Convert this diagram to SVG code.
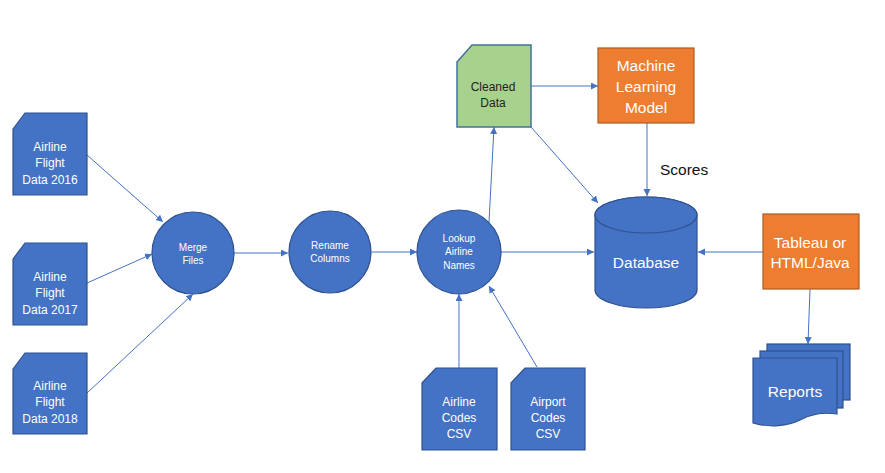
<svg xmlns="http://www.w3.org/2000/svg" width="885" height="473" viewBox="0 0 885 473">
<defs>
<marker id="ah" markerUnits="userSpaceOnUse" markerWidth="8" markerHeight="8" refX="7" refY="3.5" orient="auto">
<path d="M0,0 L7,3.5 L0,7 Z" fill="#4472c4"/>
</marker>
<style>
.blue{fill:#4472c4;stroke:#2f528f;stroke-width:1.2}
.org{fill:#ed7d31;stroke:#ae5a21;stroke-width:1.2}
.grn{fill:#a9d18e;stroke:#41719c;stroke-width:1.5}
.c{stroke:#4472c4;stroke-width:1;fill:none;marker-end:url(#ah)}
text{font-family:"Liberation Sans",Arial,sans-serif;text-anchor:middle}
.w12{fill:#fff;font-size:12px}
.w10{fill:#fff;font-size:10px}
.w16{fill:#fff;font-size:15.5px}
.d12{fill:#222;font-size:12px}
</style>
</defs>
<rect width="885" height="473" fill="#fff"/>
<g id="connectors">
<line class="c" x1="87" y1="155" x2="163" y2="222"/>
<line class="c" x1="87" y1="283" x2="152" y2="254"/>
<line class="c" x1="87" y1="393" x2="193" y2="294"/>
<line class="c" x1="234" y1="253" x2="288" y2="253"/>
<line class="c" x1="372" y1="252" x2="417" y2="252"/>
<line class="c" x1="501" y1="252" x2="594" y2="252"/>
<line class="c" x1="489" y1="222" x2="494" y2="127"/>
<line class="c" x1="531" y1="86" x2="598" y2="86"/>
<line class="c" x1="531" y1="127" x2="598" y2="203"/>
<line class="c" x1="647" y1="123" x2="647" y2="196"/>
<line class="c" x1="763" y1="252" x2="698" y2="252"/>
<line class="c" x1="810" y1="289" x2="808" y2="344"/>
<line class="c" x1="459" y1="368" x2="459" y2="294"/>
<line class="c" x1="537" y1="367" x2="489" y2="286"/>
</g>
<g id="flight2016">
<path class="blue" d="M13,129 L25,113 L87,113 L87,195 L13,195 Z"/>
<text class="w12" x="50" y="151">Airline</text>
<text class="w12" x="50" y="167">Flight</text>
<text class="w12" x="50" y="184">Data 2016</text>
</g>
<g id="flight2017">
<path class="blue" d="M13,259 L25,243 L87,243 L87,325 L13,325 Z"/>
<text class="w12" x="50" y="281">Airline</text>
<text class="w12" x="50" y="297">Flight</text>
<text class="w12" x="50" y="314">Data 2017</text>
</g>
<g id="flight2018">
<path class="blue" d="M13,369 L25,353 L87,353 L87,434 L13,434 Z"/>
<text class="w12" x="50" y="390">Airline</text>
<text class="w12" x="50" y="406">Flight</text>
<text class="w12" x="50" y="423">Data 2018</text>
</g>
<g id="merge">
<circle class="blue" cx="193" cy="253" r="41"/>
<text class="w10" x="193" y="251">Merge</text>
<text class="w10" x="193" y="264">Files</text>
</g>
<g id="rename">
<circle class="blue" cx="330" cy="252" r="41"/>
<text class="w10" x="330" y="249">Rename</text>
<text class="w10" x="330" y="262">Columns</text>
</g>
<g id="lookup">
<circle class="blue" cx="459" cy="252" r="42"/>
<text class="w10" x="459" y="242">Lookup</text>
<text class="w10" x="459" y="255">Airline</text>
<text class="w10" x="459" y="269">Names</text>
</g>
<g id="cleaned">
<path class="grn" d="M457,62 L472,45 L531,45 L531,127 L457,127 Z"/>
<text class="d12" x="493" y="91">Cleaned</text>
<text class="d12" x="493" y="107">Data</text>
</g>
<g id="ml">
<rect class="org" x="598" y="48" width="96" height="75"/>
<text class="w16" x="646" y="71">Machine</text>
<text class="w16" x="646" y="92">Learning</text>
<text class="w16" x="646" y="113">Model</text>
</g>
<text x="660" y="175" style="font-size:15.5px;fill:#111;text-anchor:start">Scores</text>
<g id="database">
<path class="blue" d="M595,215 V290 A51,18 0 0 0 697,290 V215 A51,18 0 0 0 595,215 Z"/>
<ellipse class="blue" cx="646" cy="215" rx="51" ry="18"/>
<text class="w16" x="646" y="268">Database</text>
</g>
<g id="tableau">
<rect class="org" x="763" y="214" width="96" height="75"/>
<text class="w16" x="810" y="248">Tableau or</text>
<text class="w16" x="810" y="268">HTML/Java</text>
</g>
<g id="reports">
<rect class="blue" x="767" y="344" width="83" height="56"/>
<rect class="blue" x="760" y="351" width="83" height="57"/>
<path class="blue" d="M753,358 H837 V414 C822,412 812,414 800,420 C788,426 770,428 753,423 Z"/>
<text class="w16" x="795" y="397">Reports</text>
</g>
<g id="airlinecodes">
<path class="blue" d="M422,383 L436,368 L497,368 L497,450 L422,450 Z"/>
<text class="w12" x="459" y="406">Airline</text>
<text class="w12" x="459" y="422">Codes</text>
<text class="w12" x="459" y="438">CSV</text>
</g>
<g id="airportcodes">
<path class="blue" d="M511,383 L525,368 L585,368 L585,450 L511,450 Z"/>
<text class="w12" x="548" y="406">Airport</text>
<text class="w12" x="548" y="422">Codes</text>
<text class="w12" x="548" y="438">CSV</text>
</g>
</svg>
